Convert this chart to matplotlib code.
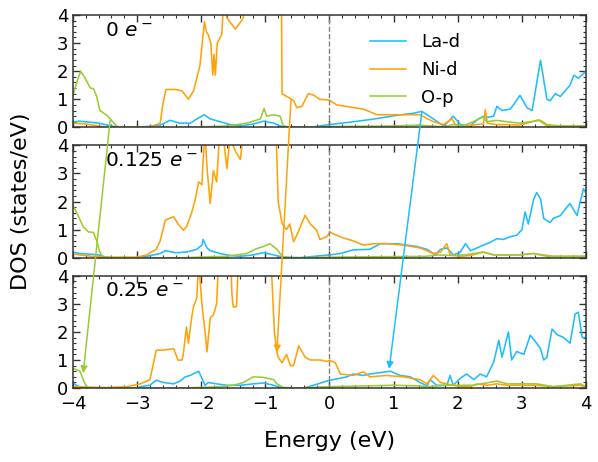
import matplotlib
matplotlib.use('Agg')
import matplotlib.pyplot as plt
from matplotlib.patches import ConnectionPatch
from matplotlib.ticker import MultipleLocator, AutoMinorLocator
import numpy as np

COLORS = {'La-d': '#1fbcff', 'Ni-d': '#ffa20a', 'O-p': '#99cc33'}
DOPING = ['0 $e^-$', '0.125 $e^-$', '0.25 $e^-$']

# projected DOS, (energy in eV, states/eV); values above 4 are clipped by ylim
la_0 = [(-4.0, 0.19), (-3.9, 0.22), (-3.8, 0.2), (-3.6, 0.15), (-3.5, 0.1), (-3.4, 0.05), (-3.3, 0.01),
        (-2.9, 0.02), (-2.64, 0.08), (-2.49, 0.25), (-2.33, 0.15), (-2.17, 0.15), (-2.07, 0.3), (-1.95, 0.45),
        (-1.86, 0.3), (-1.7, 0.2), (-1.55, 0.1), (-1.4, 0.05), (-1.19, 0.12), (-1.03, 0.22), (-0.87, 0.15),
        (-0.77, 0.05), (-0.56, 0.0), (-0.25, 0.02), (0.0, 0.1), (0.37, 0.2), (0.7, 0.3), (1.05, 0.43),
        (1.3, 0.5), (1.44, 0.57), (1.62, 0.3), (1.78, 0.05), (1.85, 0.2), (1.93, 0.4), (2.04, 0.1),
        (2.19, 0.05), (2.32, 0.3), (2.4, 0.4), (2.45, 0.35), (2.56, 0.4), (2.61, 0.75), (2.69, 0.6),
        (2.82, 0.65), (2.97, 1.14), (3.08, 0.7), (3.16, 0.6), (3.29, 2.39), (3.39, 1.0), (3.44, 0.95),
        (3.52, 1.2), (3.6, 1.1), (3.75, 1.5), (3.81, 1.86), (3.88, 1.75), (4.0, 2.0)]
ni_0 = [(-4.0, 0.15), (-3.8, 0.12), (-3.6, 0.05), (-3.5, 0.0), (-2.8, 0.02), (-2.7, 0.1), (-2.64, 0.15),
        (-2.6, 0.8), (-2.55, 1.35), (-2.4, 1.35), (-2.3, 1.3), (-2.2, 1.0), (-2.12, 1.3), (-2.02, 2.2),
        (-1.95, 3.76), (-1.92, 3.4), (-1.89, 3.3), (-1.85, 3.0), (-1.82, 1.86), (-1.8, 2.6), (-1.78, 1.86),
        (-1.75, 3.0), (-1.68, 3.3), (-1.65, 4.5), (-1.62, 4.3), (-1.6, 3.9), (-1.47, 3.5), (-1.37, 3.8),
        (-1.29, 4.2), (-1.2, 5.0), (-0.75, 5.0), (-0.74, 1.2), (-0.67, 1.1), (-0.56, 0.96), (-0.51, 0.7),
        (-0.43, 0.75), (-0.33, 1.2), (-0.25, 1.15), (-0.15, 1.0), (0.0, 0.97), (0.11, 0.8), (0.53, 0.65),
        (0.74, 0.45), (1.05, 0.45), (1.41, 0.45), (1.62, 0.2), (1.78, 0.1), (1.91, 0.31), (1.96, 0.1),
        (2.09, 0.05), (2.3, 0.1), (2.4, 0.12), (2.43, 0.63), (2.46, 0.15), (2.6, 0.1), (2.77, 0.1),
        (2.97, 0.08), (3.26, 0.27), (3.39, 0.05), (4.0, 0.05)]
op_0 = [(-4.0, 1.14), (-3.94, 1.6), (-3.88, 2.0), (-3.81, 1.75), (-3.73, 1.4), (-3.68, 1.38), (-3.63, 1.1),
        (-3.58, 0.6), (-3.47, 0.43), (-3.4, 0.25), (-3.32, 0.05), (-3.27, 0.0), (-2.3, 0.0), (-1.6, 0.05),
        (-1.29, 0.15), (-1.08, 0.3), (-1.02, 0.67), (-0.98, 0.4), (-0.87, 0.45), (-0.77, 0.4), (-0.72, 0.05),
        (-0.6, 0.0), (0.0, 0.03), (1.0, 0.05), (1.4, 0.08), (1.78, 0.02), (1.93, 0.1), (2.09, 0.05),
        (2.4, 0.37), (2.45, 0.2), (2.61, 0.25), (2.77, 0.2), (2.97, 0.15), (3.29, 0.25), (3.39, 0.1),
        (3.6, 0.05), (4.0, 0.05)]

la_1 = [(-4.0, 0.2), (-3.9, 0.15), (-3.7, 0.12), (-3.6, 0.1), (-3.5, 0.03), (-3.4, 0.0), (-3.0, 0.0),
        (-2.85, 0.05), (-2.64, 0.15), (-2.56, 0.25), (-2.4, 0.18), (-2.23, 0.2), (-2.07, 0.3), (-1.99, 0.45),
        (-1.97, 0.65), (-1.91, 0.35), (-1.86, 0.25), (-1.78, 0.2), (-1.71, 0.15), (-1.55, 0.08), (-1.39, 0.05),
        (-1.19, 0.1), (-1.03, 0.18), (-0.87, 0.1), (-0.74, 0.02), (-0.45, 0.0), (-0.15, 0.07), (0.0, 0.1),
        (0.17, 0.15), (0.37, 0.28), (0.63, 0.3), (0.79, 0.5), (1.05, 0.5), (1.36, 0.4), (1.52, 0.3),
        (1.65, 0.1), (1.73, 0.3), (1.83, 0.35), (1.93, 0.1), (2.04, 0.2), (2.12, 0.5), (2.2, 0.25),
        (2.3, 0.35), (2.4, 0.45), (2.51, 0.55), (2.61, 0.68), (2.71, 0.65), (2.82, 0.75), (2.92, 0.8),
        (3.0, 1.0), (3.05, 1.63), (3.1, 1.2), (3.18, 2.05), (3.23, 2.32), (3.29, 2.1), (3.34, 1.4),
        (3.44, 1.25), (3.49, 1.4), (3.6, 1.5), (3.7, 1.8), (3.75, 1.93), (3.86, 1.5), (3.91, 2.0),
        (3.96, 2.46), (4.0, 2.3)]
ni_1 = [(-4.0, 0.15), (-3.9, 0.1), (-3.7, 0.05), (-3.5, 0.02), (-3.0, 0.02), (-2.85, 0.1), (-2.7, 0.3),
        (-2.64, 0.6), (-2.56, 1.34), (-2.43, 1.46), (-2.36, 1.2), (-2.28, 0.98), (-2.23, 1.1), (-2.15, 1.6),
        (-2.1, 2.0), (-2.04, 2.7), (-1.99, 2.6), (-1.97, 3.5), (-1.94, 4.5), (-1.91, 3.2), (-1.86, 1.93),
        (-1.81, 3.1), (-1.76, 2.7), (-1.71, 4.5), (-1.65, 4.2), (-1.6, 3.17), (-1.55, 4.3), (-1.47, 3.8),
        (-1.39, 3.5), (-1.34, 4.5), (-0.84, 5.0), (-0.8, 2.0), (-0.74, 1.22), (-0.67, 1.0), (-0.62, 1.2),
        (-0.56, 0.57), (-0.51, 0.8), (-0.38, 1.51), (-0.3, 1.2), (-0.2, 0.98), (-0.15, 0.65), (-0.04, 0.75),
        (0.01, 0.92), (0.06, 0.85), (0.22, 0.7), (0.37, 0.6), (0.53, 0.45), (0.69, 0.5), (0.89, 0.5),
        (1.15, 0.45), (1.41, 0.35), (1.62, 0.15), (1.73, 0.2), (1.83, 0.5), (1.88, 0.1), (2.04, 0.05),
        (2.2, 0.08), (2.4, 0.2), (2.56, 0.1), (2.71, 0.1), (2.97, 0.1), (3.18, 0.15), (3.49, 0.05), (4.0, 0.05)]
op_1 = [(-4.0, 1.87), (-3.92, 1.5), (-3.84, 1.1), (-3.76, 0.92), (-3.68, 0.9), (-3.63, 0.6), (-3.58, 0.2),
        (-3.53, 0.0), (-2.3, 0.0), (-1.6, 0.05), (-1.29, 0.15), (-1.13, 0.33), (-1.03, 0.4), (-0.93, 0.5),
        (-0.82, 0.3), (-0.74, 0.05), (-0.6, 0.0), (0.0, 0.02), (1.5, 0.05), (1.7, 0.1), (1.9, 0.08),
        (2.1, 0.1), (2.4, 0.2), (2.56, 0.1), (2.97, 0.1), (3.18, 0.15), (3.39, 0.05), (4.0, 0.05)]

la_2 = [(-4.0, 0.2), (-3.95, 0.1), (-3.9, 0.05), (-3.8, 0.0), (-3.0, 0.0), (-2.95, 0.05), (-2.8, 0.1),
        (-2.7, 0.28), (-2.59, 0.2), (-2.43, 0.15), (-2.33, 0.25), (-2.25, 0.4), (-2.17, 0.45), (-2.04, 0.6),
        (-1.99, 0.35), (-1.94, 0.1), (-1.89, 0.2), (-1.76, 0.15), (-1.6, 0.1), (-1.39, 0.1), (-1.19, 0.15),
        (-1.03, 0.18), (-0.87, 0.1), (-0.77, 0.02), (-0.4, 0.0), (-0.25, 0.1), (0.0, 0.28), (0.17, 0.35),
        (0.27, 0.4), (0.37, 0.5), (0.53, 0.45), (0.63, 0.5), (0.79, 0.55), (0.95, 0.6), (1.1, 0.45),
        (1.26, 0.4), (1.41, 0.2), (1.52, 0.08), (1.57, 0.3), (1.67, 0.1), (1.83, 0.1), (1.88, 0.45),
        (1.93, 0.1), (2.04, 0.35), (2.14, 0.5), (2.25, 0.3), (2.35, 0.5), (2.45, 0.4), (2.56, 0.93),
        (2.64, 1.7), (2.69, 1.1), (2.79, 2.0), (2.84, 1.0), (2.92, 1.3), (3.03, 1.2), (3.13, 1.88),
        (3.23, 1.6), (3.29, 1.4), (3.34, 1.0), (3.39, 1.1), (3.47, 2.1), (3.55, 1.9), (3.65, 1.8),
        (3.75, 1.6), (3.83, 2.64), (3.88, 2.7), (3.94, 1.8), (4.0, 1.8)]
ni_2 = [(-4.0, 0.05), (-3.5, 0.02), (-3.16, 0.05), (-2.95, 0.15), (-2.8, 0.3), (-2.7, 1.35), (-2.59, 1.35),
        (-2.43, 1.4), (-2.36, 0.99), (-2.3, 1.0), (-2.28, 1.2), (-2.23, 2.17), (-2.2, 1.6), (-2.15, 2.5),
        (-2.12, 2.9), (-2.07, 3.2), (-2.04, 4.5), (-1.99, 3.0), (-1.94, 2.0), (-1.91, 1.29), (-1.86, 2.5),
        (-1.81, 2.6), (-1.76, 3.0), (-1.73, 4.5), (-1.55, 5.0), (-1.52, 3.3), (-1.5, 2.88), (-1.45, 2.9),
        (-1.42, 4.5), (-0.92, 5.0), (-0.86, 2.0), (-0.82, 1.3), (-0.8, 1.1), (-0.74, 0.9), (-0.67, 1.2),
        (-0.61, 0.8), (-0.56, 0.8), (-0.48, 1.5), (-0.43, 1.3), (-0.38, 1.1), (-0.3, 1.0), (-0.15, 1.0),
        (-0.04, 0.95), (0.0, 0.99), (0.09, 0.9), (0.17, 0.5), (0.37, 0.45), (0.53, 0.58), (0.63, 0.4),
        (0.89, 0.45), (1.15, 0.4), (1.41, 0.3), (1.52, 0.15), (1.62, 0.45), (1.73, 0.2), (1.83, 0.15),
        (1.93, 0.1), (2.04, 0.05), (2.19, 0.05), (2.3, 0.15), (2.45, 0.1), (2.61, 0.15), (2.77, 0.1),
        (2.97, 0.1), (3.23, 0.1), (3.49, 0.05), (3.91, 0.1), (4.0, 0.05)]
op_2 = [(-4.0, 0.7), (-3.89, 0.6), (-3.84, 0.3), (-3.79, 0.05), (-3.7, 0.0), (-2.3, 0.0), (-1.71, 0.05),
        (-1.5, 0.1), (-1.34, 0.2), (-1.19, 0.4), (-1.03, 0.38), (-0.87, 0.3), (-0.82, 0.15), (-0.72, 0.02),
        (-0.5, 0.0), (0.0, 0.05), (1.0, 0.1), (1.4, 0.08), (1.52, 0.05), (1.83, 0.1), (2.25, 0.1),
        (2.61, 0.25), (2.77, 0.15), (2.97, 0.15), (3.23, 0.15), (3.49, 0.05), (3.91, 0.15), (4.0, 0.05)]

panels = [
    {'La-d': la_0, 'Ni-d': ni_0, 'O-p': op_0},
    {'La-d': la_1, 'Ni-d': ni_1, 'O-p': op_1},
    {'La-d': la_2, 'Ni-d': ni_2, 'O-p': op_2},
]

# arrows from the undoped panel to the 0.25 e- panel: (start, end, orbital)
arrows = [((-3.42, 0.25), (-3.84, 0.53), 'O-p'),
          ((-0.6, 1.0), (-0.82, 1.27), 'Ni-d'),
          ((1.44, 0.55), (0.93, 0.68), 'La-d')]

fig, axes = plt.subplots(3, 1, figsize=(5.98, 4.62), dpi=100, sharex=True)
fig.subplots_adjust(left=0.122, right=0.98, top=0.9675, bottom=0.16, hspace=0.16)

for i, ax in enumerate(axes):
    for name in ['La-d', 'Ni-d', 'O-p']:
        e, d = np.array(panels[i][name]).T
        ax.plot(e, d, color=COLORS[name], lw=1.15, label=name)
    ax.axvline(0, color='grey', ls='--', lw=1.0)
    ax.set_xlim(-4, 4)
    ax.set_ylim(0, 4)
    ax.xaxis.set_major_locator(MultipleLocator(1))
    ax.xaxis.set_minor_locator(AutoMinorLocator(5))
    ax.yaxis.set_major_locator(MultipleLocator(1))
    ax.yaxis.set_minor_locator(AutoMinorLocator(5))
    ax.tick_params(which='both', direction='in', top=True, right=True, labelsize=13, color='0.2')
    ax.tick_params(which='major', length=5, width=1)
    ax.tick_params(which='minor', length=2.5, width=0.8)
    ax.tick_params(axis='x', pad=5)
    for sp in ax.spines.values():
        sp.set_color('0.2')
        sp.set_linewidth(1.1)
    ax.text(0.062, 0.865, DOPING[i], transform=ax.transAxes, fontsize=14.5, va='center')

axes[0].legend(loc='upper left', bbox_to_anchor=(0.548, 0.985), frameon=False, fontsize=13,
               handlelength=2.0, handletextpad=0.8, labelspacing=0.55)
axes[2].set_xlabel('Energy (eV)', fontsize=16, labelpad=13)
fig.text(0.035, 0.565, 'DOS (states/eV)', rotation=90, fontsize=16, ha='center', va='center')

for start, end, name in arrows:
    con = ConnectionPatch(xyA=start, coordsA=axes[0].transData, xyB=end, coordsB=axes[2].transData,
                          arrowstyle='-|>', color=COLORS[name], lw=1.1, mutation_scale=10)
    fig.add_artist(con)

fig.savefig('out.png', dpi=100)
